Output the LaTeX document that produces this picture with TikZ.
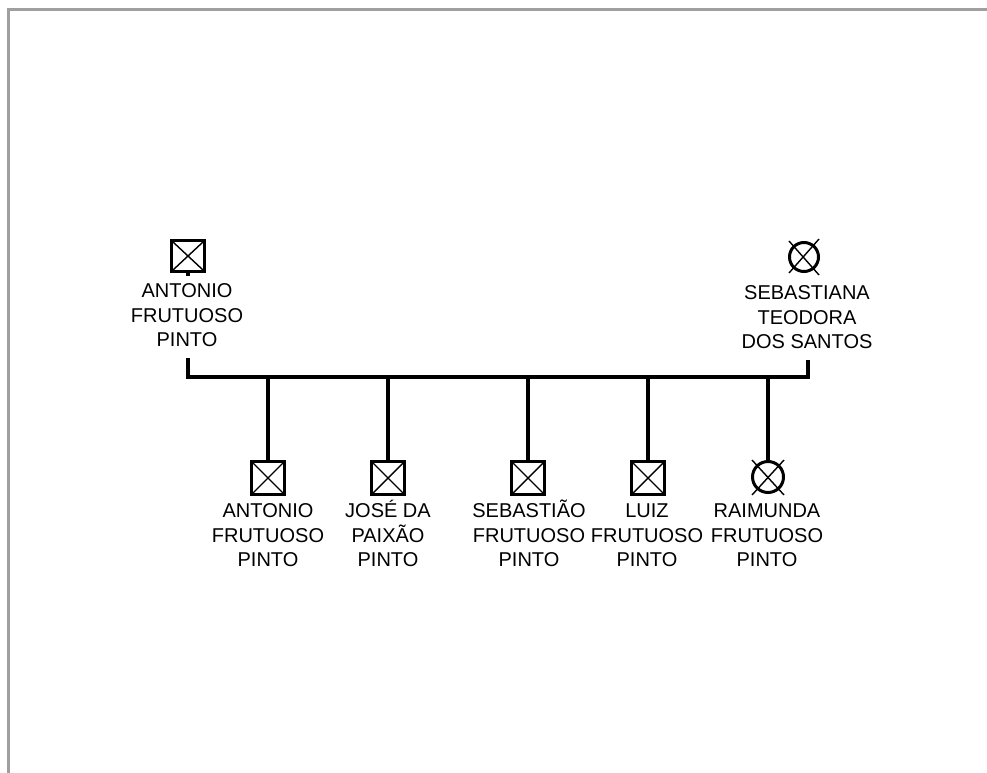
\documentclass[tikz,border=0pt]{standalone}
\usepackage{fontspec}
\setmainfont{Liberation Sans}
\newcommand\namefont{\fontsize{20}{24.6}\selectfont\lineskiplimit=-30pt\relax\lineskip=0pt\relax}
\begin{document}
\begin{tikzpicture}[x=1pt,y=-1pt,
  conn/.style={line width=3.2pt},
  frame/.style={draw=gray!75,line width=3pt},
  malebox/.style={draw,rectangle,line width=3pt,minimum width=33pt,minimum height=31pt,inner sep=0pt},
  femalering/.style={draw,circle,line width=3pt,minimum size=29pt,inner sep=0pt},
  xline/.style={line width=1.4pt},
  namelbl/.style={align=center,inner sep=0pt,anchor=north,font=\namefont}]
\useasboundingbox (0,0) rectangle (987,773);
% page frame (top and left edges)
\draw[frame] (8.5,773) -- (8.5,9.5) -- (987,9.5);

% parents
\node[malebox] (f) at (188,256) {};
\draw[xline] ([shift={(-15pt,14pt)}]f.center) -- ([shift={(15pt,-14pt)}]f.center);
\draw[xline] ([shift={(-15pt,-14pt)}]f.center) -- ([shift={(15pt,14pt)}]f.center);
\coordinate (fstub) at (188,276);
\draw[conn] (f.south) -- (fstub);
\node[namelbl] (fn) at (187,280) {\strut ANTONIO\\FRUTUOSO\\PINTO};

\node[femalering] (m) at (804,257) {};
\draw[xline] ([shift={(-15pt,16pt)}]m.center) -- ([shift={(15pt,-18pt)}]m.center);
\draw[xline] ([shift={(-15pt,-16pt)}]m.center) -- ([shift={(15pt,18pt)}]m.center);
\node[namelbl] (mn) at (807,282) {\strut SEBASTIANA\\TEODORA\\DOS SANTOS};

% sibship line
\coordinate (fdrop) at (188,358);
\coordinate (mdrop) at (808,360);
\coordinate (sl) at (188,377);
\coordinate (sr) at (808,377);
\draw[conn] (fdrop) -- (sl) -- (sr) -- (mdrop);

% male children
\foreach \nm/\cx in {c1/268,c2/388,c3/528,c4/648}{
  \coordinate (\nm top) at (\cx,377);
  \node[malebox,minimum width=33pt,minimum height=33pt] (\nm) at (\cx,478) {};
  \draw[xline] ([shift={(-15pt,15pt)}]\nm.center) -- ([shift={(15pt,-15pt)}]\nm.center);
  \draw[xline] ([shift={(-15pt,-15pt)}]\nm.center) -- ([shift={(15pt,15pt)}]\nm.center);
  \draw[conn] (\nm top) -- (\nm.north);
}
% female child
\coordinate (c5top) at (768,377);
\node[femalering,minimum size=31pt] (c5) at (768,477) {};
\draw[xline] ([shift={(-16pt,17pt)}]c5.center) -- ([shift={(16pt,-18pt)}]c5.center);
\draw[xline] ([shift={(-16pt,-18pt)}]c5.center) -- ([shift={(16pt,17pt)}]c5.center);
\draw[conn] (c5top) -- (c5.north);

% children names
\node[namelbl] (c1n) at (268,500) {\strut ANTONIO\\FRUTUOSO\\PINTO};
\node[namelbl] (c2n) at (388,500) {\strut JOSÉ DA\\PAIXÃO\\PINTO};
\node[namelbl] (c3n) at (529,500) {\strut SEBASTIÃO\\FRUTUOSO\\PINTO};
\node[namelbl] (c4n) at (647,500) {\strut LUIZ\\FRUTUOSO\\PINTO};
\node[namelbl] (c5n) at (767,500) {\strut RAIMUNDA\\FRUTUOSO\\PINTO};
\end{tikzpicture}
\end{document}
